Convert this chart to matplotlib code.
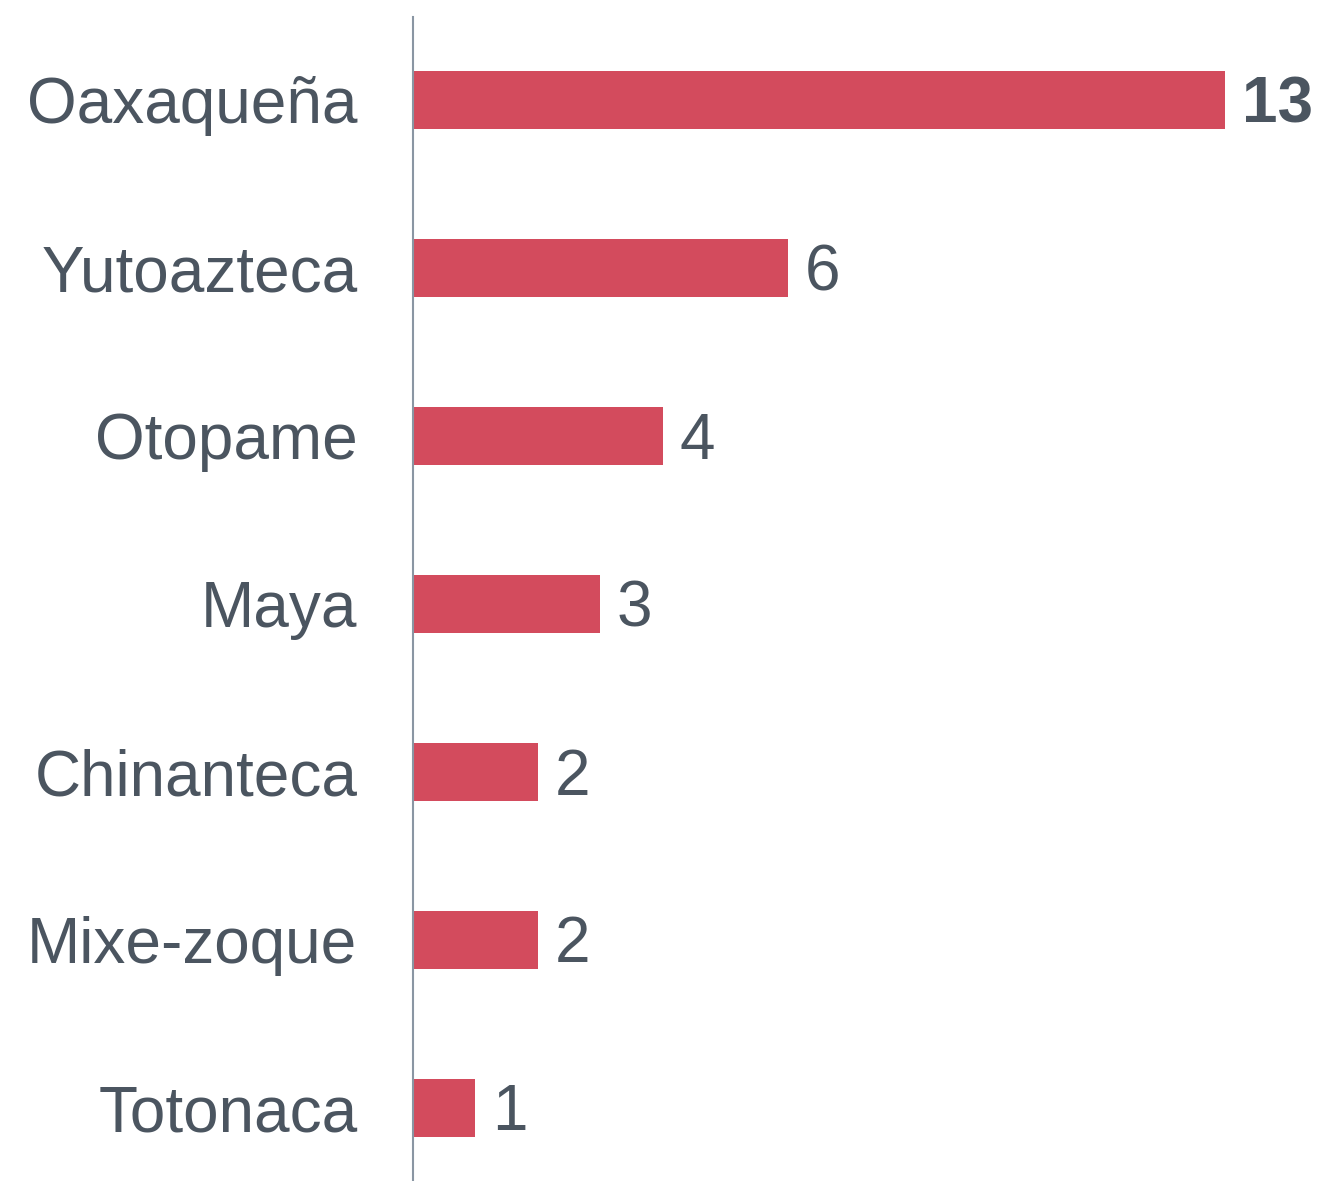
import matplotlib.pyplot as plt

familias = ['Oaxaqueña', 'Yutoazteca', 'Otopame', 'Maya', 'Chinanteca', 'Mixe-zoque', 'Totonaca']
lenguas = [13, 6, 4, 3, 2, 2, 1]

rojo = '#d34b5d'
gris = '#4b5560'

plt.rcParams['font.family'] = ['Liberation Sans', 'DejaVu Sans']

fig = plt.figure(figsize=(13.18, 11.81), dpi=100)
ax = fig.add_axes([413 / 1318, 0, 1 - 413 / 1318, 1 - 17 / 1181])

pos = list(range(len(familias)))
ax.barh(pos, lenguas, height=0.345, color=rojo)

for i, v in enumerate(lenguas):
    ax.annotate(str(v), (v, i), xytext=(12, -4), textcoords='offset points',
                ha='left', va='center', fontsize=46, color=gris,
                fontweight='bold' if i == 0 else 'normal')

ax.set_yticks(pos)
ax.set_yticklabels(familias, fontsize=46, color=gris)
ax.tick_params(axis='y', length=0, pad=40)
ax.set_xticks([])
ax.set_xlim(0, 905 / 62.46)
ax.set_ylim(6.435, -0.494)

for s in ['top', 'right', 'bottom']:
    ax.spines[s].set_visible(False)
ax.spines['left'].set_color('#8a96a3')
ax.spines['left'].set_linewidth(1.5)

fig.savefig('out.png', dpi=100)
